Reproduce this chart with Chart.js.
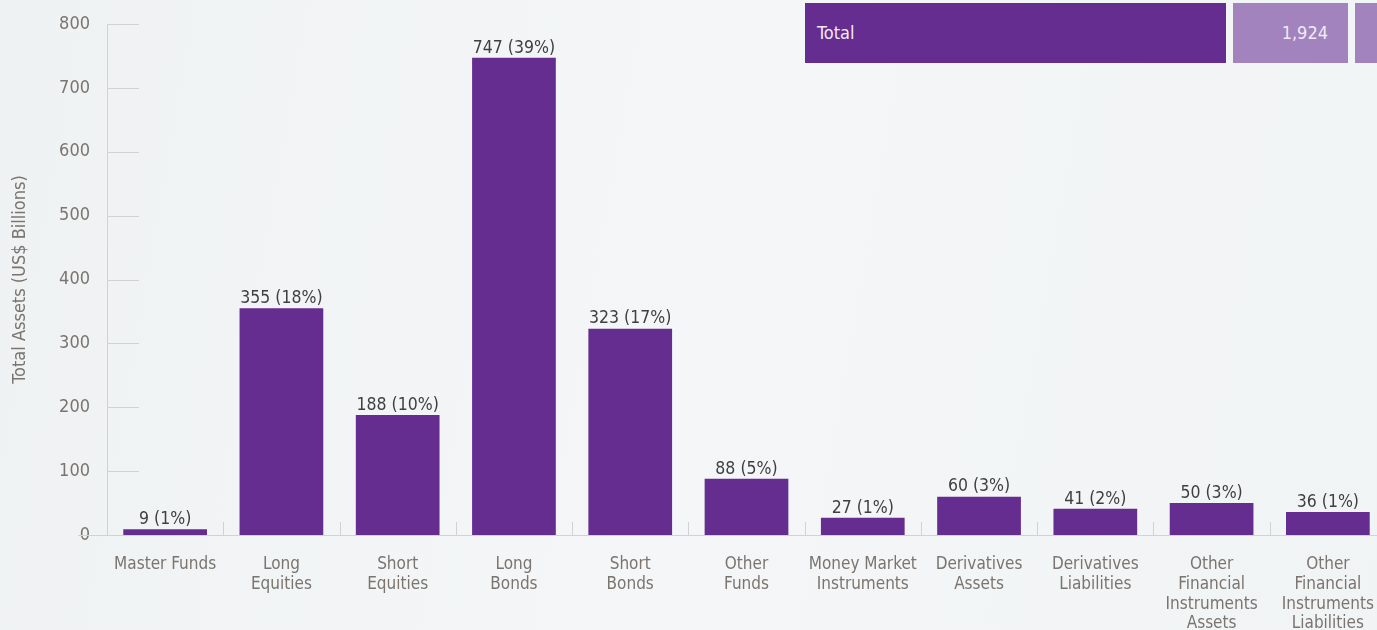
<!DOCTYPE html>
<html>
<head>
<meta charset="utf-8">
<script src="https://cdn.jsdelivr.net/npm/chart.js@4"></script>
<style>
    html, body { margin: 0; padding: 0; }
    body {
        width: 1377px; height: 630px; overflow: hidden; position: relative;
        background: linear-gradient(100deg, #eff2f3 0%, #f4f6f7 50%, #f1f4f5 100%);
        font-family: 'DejaVu Sans Condensed', sans-serif;
    }
    #wrap { position: absolute; left: 0; top: 0; width: 1392px; height: 630px; }
    .cell { position: absolute; top: 3px; height: 60px; line-height: 60px; color: #f1eaf6; font-size: 18px; box-sizing: border-box; }
    #totalLabel { left: 805px; width: 421px; background: #642d8f; padding-left: 12px; }
    #totalValue { left: 1233px; width: 115px; background: #a283bd; text-align: right; padding-right: 20px; }
    #totalExtra { left: 1355px; width: 22px; background: #a283bd; }
</style>
</head>
<body>
<div id="wrap"><canvas id="chart" width="1392" height="630"></canvas></div>
<div class="cell" id="totalLabel">Total</div>
<div class="cell" id="totalValue"></div>
<div class="cell" id="totalExtra"></div>
<script>
const categories = [
    ['Master Funds'], ['Long', 'Equities'], ['Short', 'Equities'], ['Long', 'Bonds'],
    ['Short', 'Bonds'], ['Other', 'Funds'], ['Money Market', 'Instruments'],
    ['Derivatives', 'Assets'], ['Derivatives', 'Liabilities'],
    ['Other', 'Financial', 'Instruments', 'Assets'],
    ['Other', 'Financial', 'Instruments', 'Liabilities']
];
const assets = [9, 355, 188, 747, 323, 88, 27, 60, 41, 50, 36];
const shares = [1, 18, 10, 39, 17, 5, 1, 3, 2, 3, 1];
const yTicks = [0, 100, 200, 300, 400, 500, 600, 700, 800];

const FONT = "'DejaVu Sans Condensed', sans-serif";
const PURPLE = '#642d8f';
const AXIS = '#d2d2d2';
const LABEL = '#7b746f';

document.getElementById('totalValue').textContent =
    assets.reduce((a, b) => a + b, 0).toLocaleString('en-US');

// axis line, short tick stubs and value labels
const decorations = {
    id: 'decorations',
    beforeDatasetsDraw(chart) {
        const { ctx, chartArea, scales } = chart;
        const x = scales.x, y = scales.y;
        const base = Math.round(y.getPixelForValue(0));
        ctx.save();
        ctx.strokeStyle = AXIS;
        ctx.lineWidth = 1;
        ctx.beginPath();
        ctx.moveTo(chartArea.left + 0.5, y.getPixelForValue(800));
        ctx.lineTo(chartArea.left + 0.5, base);
        ctx.moveTo(78, base + 0.5);
        ctx.lineTo(chartArea.right, base + 0.5);
        yTicks.slice(1).forEach(v => {
            const py = Math.round(y.getPixelForValue(v)) + 0.5;
            ctx.moveTo(chartArea.left, py);
            ctx.lineTo(chartArea.left + 32, py);
        });
        for (let i = 1; i < categories.length; i++) {
            const px = Math.round((x.getPixelForValue(i - 1) + x.getPixelForValue(i)) / 2) + 0.5;
            ctx.moveTo(px, base);
            ctx.lineTo(px, base - 13);
        }
        ctx.stroke();
        ctx.restore();
    },
    afterDatasetsDraw(chart) {
        const { ctx } = chart;
        const meta = chart.getDatasetMeta(0);
        ctx.save();
        ctx.font = '17.5px ' + FONT;
        ctx.fillStyle = '#3f3f3f';
        ctx.textAlign = 'center';
        ctx.textBaseline = 'bottom';
        meta.data.forEach((bar, i) => {
            ctx.fillText(assets[i] + ' (' + shares[i] + '%)', bar.x, bar.y - 1);
        });
        ctx.restore();
    }
};

new Chart(document.getElementById('chart'), {
    type: 'bar',
    data: {
        labels: categories,
        datasets: [{
            data: assets,
            backgroundColor: PURPLE,
            barPercentage: 0.72,
            categoryPercentage: 1
        }]
    },
    options: {
        responsive: false,
        animation: false,
        layout: { padding: { top: 24, right: 6, left: 0, bottom: 0 } },
        plugins: { legend: { display: false }, tooltip: { enabled: false } },
        scales: {
            x: {
                grid: { display: false },
                border: { display: false },
                ticks: {
                    color: LABEL,
                    font: { family: FONT, size: 17, lineHeight: 1.16 },
                    padding: 12,
                    maxRotation: 0,
                    autoSkip: false
                },
                afterFit(s) { s.height = 95; }
            },
            y: {
                min: 0,
                max: 800,
                afterBuildTicks(s) { s.ticks = yTicks.map(v => ({ value: v })); },
                grid: { display: false },
                border: { display: false },
                ticks: {
                    color: LABEL,
                    font: { family: FONT, size: 18 },
                    padding: 9
                },
                title: {
                    display: true,
                    text: 'Total Assets (US$ Billions)',
                    color: LABEL,
                    font: { family: FONT, size: 18 },
                    padding: { top: 10, bottom: 0 }
                },
                afterFit(s) { s.width = 107; }
            }
        }
    },
    plugins: [decorations]
});
</script>
</body>
</html>
